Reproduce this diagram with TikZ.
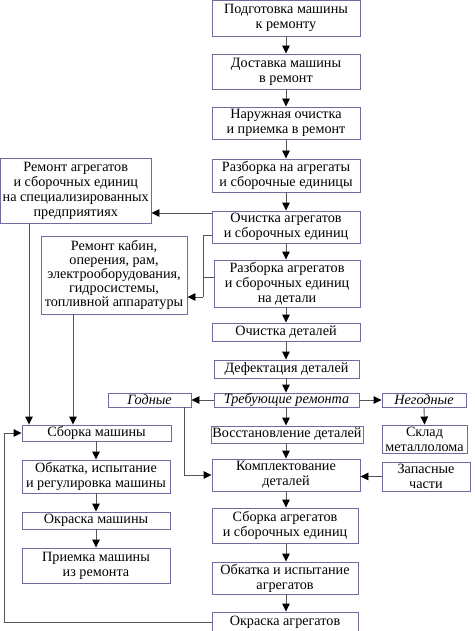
\documentclass[tikz,border=0pt]{standalone}
\usepackage{fontspec}
\setmainfont{Liberation Serif}
\usetikzlibrary{arrows.meta}
\definecolor{boxc}{HTML}{6E6E9E}
\definecolor{linec}{HTML}{555555}
\tikzset{
  box/.style={draw=boxc, line width=0.9pt, inner sep=0pt, align=center,
    font=\fontsize{14.2}{15}\selectfont},
  conn/.style={draw=linec, line width=0.9pt},
  arr/.style={conn, -{Triangle[length=8pt,width=7.5pt,black]}},
}
\newcommand\bx[6]{\node[box, minimum width={(#4-#2)*1pt}, minimum height={(#5-#3)*1pt}]
  (#1) at ({(#2+#4)/2},{(#3+#5)/2}) {#6};}
\begin{document}
\begin{tikzpicture}[x=1pt,y=-1pt]
\useasboundingbox (0,0) rectangle (474,631);
\bx{b1}{212}{0.5}{360}{36}{Подготовка машины\\к ремонту}
\bx{b2}{212}{54}{360}{89}{Доставка машины\\в ремонт}
\bx{b3}{212}{107}{360}{139}{Наружная очистка\\и приемка в ремонт}
\bx{b4}{212}{159}{360}{192}{Разборка на агрегаты\\и сборочные единицы}
\bx{b5}{212}{211}{360}{243}{Очистка агрегатов\\и сборочных единиц}
\bx{b6}{214}{260}{360}{307}{Разборка агрегатов\\и сборочных единиц\\на детали}
\bx{L1}{0.5}{158}{151}{223}{Ремонт агрегатов\\и сборочных единиц\\на специализированных\\предприятиях}
\node[box, font=\fontsize{14.2}{14}\selectfont, minimum width=146pt, minimum height=78pt]
  (L2) at (114,275) {Ремонт кабин,\\оперения, рам,\\электрооборудования,\\гидросистемы,\\топливной аппаратуры};
\bx{b7}{212}{323}{360}{341}{Очистка деталей}
\bx{b8}{214}{360}{359}{378}{Дефектация деталей}
\bx{b9}{214}{393}{359}{407}{\itshape Требующие ремонта}
\bx{G}{108}{393}{191}{407}{\itshape Годные}
\bx{N}{382}{393}{466}{407}{\itshape Негодные}
\bx{S1}{22}{425}{171}{441}{Сборка машины}
\bx{V}{211}{426}{363}{443}{Восстановление деталей}
\bx{Sk}{382}{425}{467}{453}{Склад\\металлолома}
\bx{K}{212}{459}{360}{491}{Комплектование\\деталей}
\bx{Z}{382}{462}{470}{491}{Запасные\\части}
\bx{S2}{22}{460}{170}{493}{Обкатка, испытание\\и регулировка машины}
\bx{S3}{22}{512}{170}{529}{Окраска машины}
\bx{S4}{22}{548}{170}{583}{Приемка машины\\из ремонта}
\bx{b10}{212}{508}{358}{543}{Сборка агрегатов\\и сборочных единиц}
\bx{b11}{212}{562}{358}{594}{Обкатка и испытание\\агрегатов}
\bx{b12}{212}{612}{358}{632}{Окраска агрегатов}
\coordinate (x29) at (29,0);
\coordinate (x73) at (73,0);
\coordinate (x184) at (184,0);
\coordinate (x4) at (4,0);
\coordinate (y213) at (0,213);
\coordinate (y235) at (0,235);
\coordinate (y277) at (0,277);
\coordinate (ja) at (203,235);
\coordinate (jb) at (203,277);
\coordinate (jc) at (203,297);
% main column
\foreach \a/\b in {b1/b2,b2/b3,b3/b4,b4/b5,b5/b6,b6/b7,b7/b8,b8/b9,b9/V,V/K,K/b10,b10/b11,b11/b12}
  \draw[arr] (\a.south -| b1.south) -- (\b.north -| b1.south);
\draw[arr] (b5.west |- y213) -- (L1.east |- y213);
\draw[conn] (b5.west |- y235) -- (ja) -- (jc);
\draw[conn] (b6.west |- y277) -- (jb);
\draw[arr] (jc) -- (L2.east |- jc);
\draw[arr] (L1.south -| x29) -- (S1.north -| x29);
\draw[arr] (L2.south -| x73) -- (S1.north -| x73);
\draw[arr] (b9.west) -- (G.east);
\draw[arr] (b9.east) -- (N.west);
\draw[arr] (N.south) -- (Sk.north);
\draw[arr] (G.south -| x184) |- (K.west);
\draw[arr] (Z.west) -- (K.east |- Z.west);
\draw[arr] (b12.west) -- (x4 |- b12.west) |- (S1.west);
\draw[arr] (S1.south -| S2.north) -- (S2.north);
\draw[arr] (S2) -- (S3);
\draw[arr] (S3) -- (S4);
\end{tikzpicture}
\end{document}
